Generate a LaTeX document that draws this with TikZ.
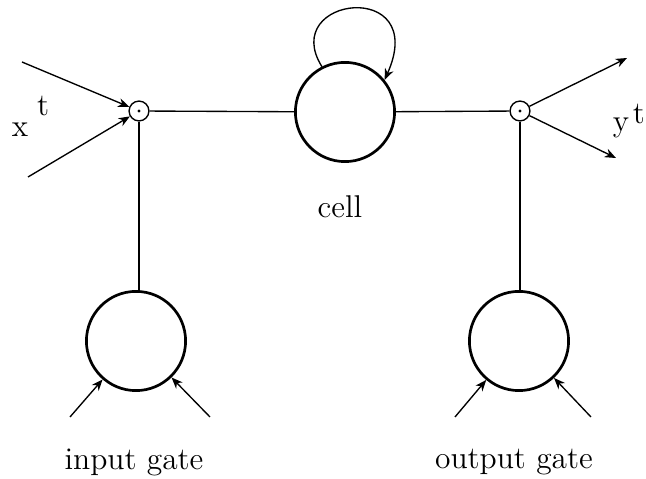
\documentclass[tikz,border=0pt]{standalone}
\usepackage{amsmath, amssymb}
\usepackage{tikz}
\usetikzlibrary{shapes.geometric}
\usetikzlibrary{arrows.meta}
\usetikzlibrary{calc}

\tikzset{
	unit/.style={circle, draw, very thick, minimum size=1.55cm, inner sep=0pt},
	prod/.style={circle, draw, semithick, minimum size=0.31cm, inner sep=0pt,
		path picture={\fill (path picture bounding box.center) circle (0.7pt);}},
	wire/.style={semithick},
	feed/.style={-{Stealth[length=5pt, width=4pt, inset=1.6pt]}, semithick},
	txt/.style={font=\fontsize{14}{17}\selectfont}
}

\begin{document}
\begin{tikzpicture}[x=0.015625cm, y=-0.015625cm]
			\useasboundingbox (0,0) rectangle (646,479);
			% units
			\node[unit] (cell) at (345,112) {};
			\node[unit] (ingate) at (136,341) {};
			\node[unit] (outgate) at (519,341) {};
			\node[prod] (prodin) at (139,111) {};
			\node[prod] (prodout) at (520,111) {};
			% free ends
			\coordinate (xa) at (22,62);
			\coordinate (xb) at (28,177);
			\coordinate (ya) at (627,58);
			\coordinate (yb) at (616,158);
			\coordinate (ina) at (70,417);
			\coordinate (inb) at (210,417);
			\coordinate (outa) at (455,417);
			\coordinate (outb) at (591,417);
			% wires
			\draw[wire] (prodin) -- (cell);
			\draw[wire] (cell) -- (prodout);
			\draw[wire] (prodin.south) -- (prodin.south |- ingate.north);
			\draw[wire] (prodout.south) -- (prodout.south |- outgate.north);
			\draw[feed] (cell.117) .. controls (278,-4) and (430,-22) .. (cell.39);
			\draw[feed] (xa) -- (prodin);
			\draw[feed] (xb) -- (prodin);
			\draw[feed] (prodout) -- (ya);
			\draw[feed] (prodout) -- (yb);
			\draw[feed] (ina) -- (ingate);
			\draw[feed] (inb) -- (ingate);
			\draw[feed] (outa) -- (outgate);
			\draw[feed] (outb) -- (outgate);
			% labels
			\node[txt] (xlabel) at (20,130) {x};
			\node[txt] (xsup) at (43,106) {t};
			\node[txt] (ylabel) at (621,128) {y};
			\node[txt] (ysup) at (639,114) {t};
			\node[txt] (celllabel) at (340,207) {cell};
			\node[txt] (inlabel) at (134,462) {input gate};
			\node[txt] (outlabel) at (514,462) {output gate};
		\end{tikzpicture}
\end{document}
